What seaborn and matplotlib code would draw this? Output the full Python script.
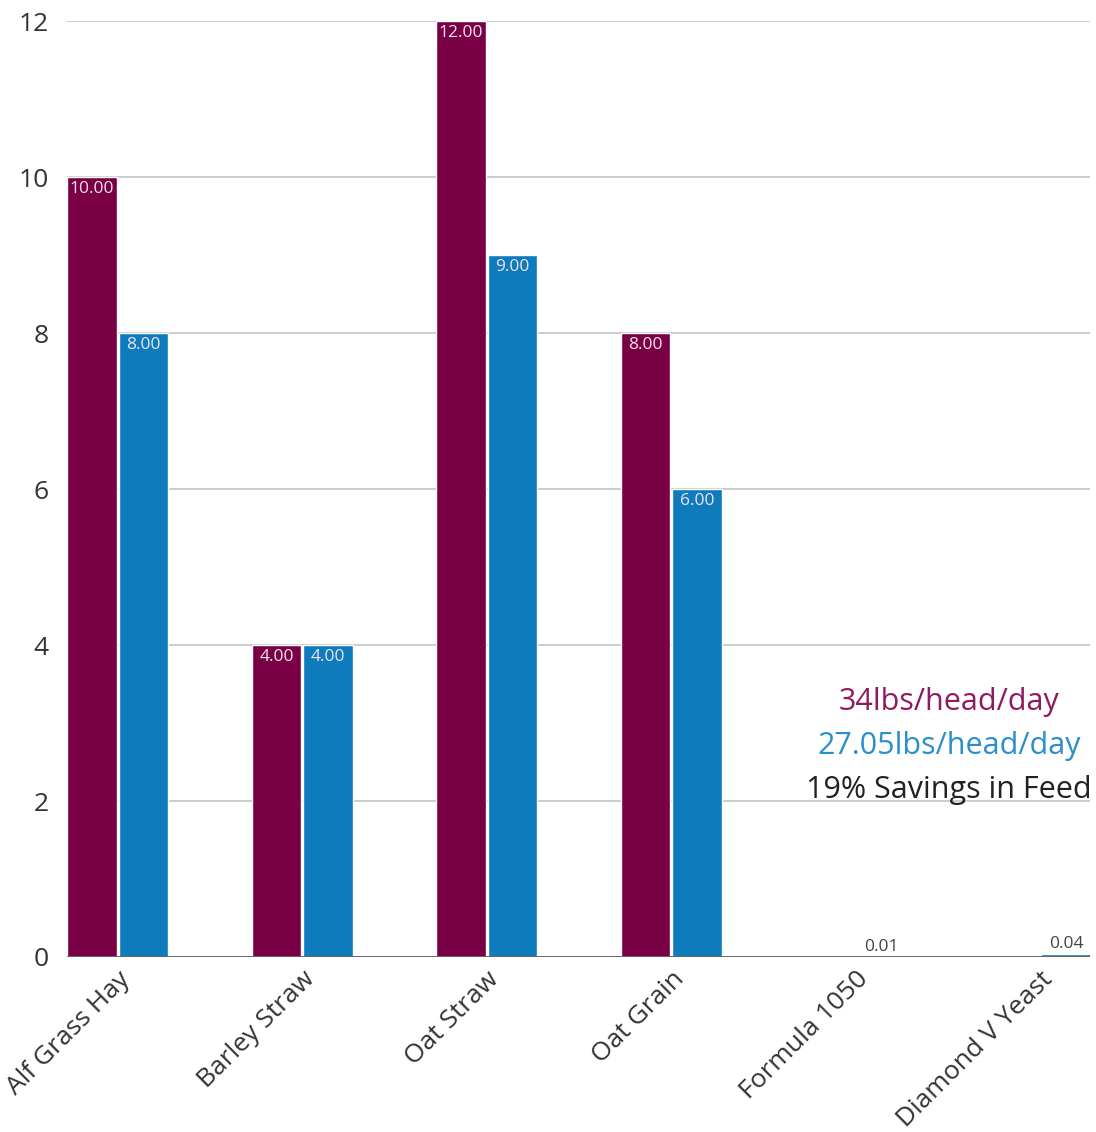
import pandas as pd
import numpy as np
import matplotlib.pyplot as plt
import seaborn as sns

categories = ['Alf Grass Hay', 'Barley Straw', 'Oat Straw', 'Oat Grain',
              'Formula 1050', 'Diamond V Yeast']
standard = [10, 4, 12, 8, 0, 0]
diamond_v = [8, 4, 9, 6, 0.01, 0.04]
series = ['Standard ration', 'Diamond V ration']
colors = ['#7a0046', '#0e7bbd']
notes = ['34lbs/head/day', '27.05lbs/head/day', '19% Savings in Feed']
note_colors = ['#8e1b62', '#2b8fcb', '#222222']

df = pd.DataFrame({
    'feed': categories * 2,
    'lbs': standard + diamond_v,
    'ration': [series[0]] * len(categories) + [series[1]] * len(categories),
})

sns.set_style('white')
plt.rcParams['font.family'] = ['Open Sans', 'DejaVu Sans']

fig = plt.figure(figsize=(10.96, 11.32), dpi=100)
ax = fig.add_axes([0.0611, 0.1546, 0.9334, 0.8268])

sns.barplot(data=df, x='feed', y='lbs', hue='ration', palette=colors,
            width=0.56, gap=0.04, legend=False, ax=ax, saturation=1)

ax.set_xlim(-0.276, 5.27)
ax.set_ylim(0, 12)
ax.set_yticks(range(0, 13, 2))
ax.yaxis.grid(True, color='#cccccc', linewidth=1.4)
ax.set_axisbelow(True)
for s in ax.spines.values():
    s.set_visible(False)
ax.axhline(0, color='#666666', linewidth=1.4, zorder=3)

ax.set_xlabel('')
ax.set_ylabel('')
ax.tick_params(axis='y', labelsize=19, labelcolor='#333333', pad=13, length=0)
ax.tick_params(axis='x', labelsize=19, labelcolor='#333333', pad=7, length=0)
plt.setp(ax.get_xticklabels(), rotation=45, ha='right', rotation_mode='anchor')

for container in ax.containers:
    for bar in container:
        h = bar.get_height()
        if h <= 0:
            continue
        cx = bar.get_x() + bar.get_width() / 2
        if h >= 1:
            ax.annotate(f'{h:.2f}', (cx, h), xytext=(0, -3), textcoords='offset points',
                        ha='center', va='top', fontsize=12.5, color='#f0e2ec', zorder=5)
        else:
            ax.annotate(f'{h:.2f}', (cx, h), xytext=(0, 1), textcoords='offset points',
                        ha='center', va='bottom', fontsize=12.5, color='#444444', zorder=5)

for i, (txt, c) in enumerate(zip(notes, note_colors)):
    ax.text(0.862, 0.272 - i * 0.047, txt, transform=ax.transAxes, ha='center',
            va='center', fontsize=22, color=c, zorder=6)

fig.savefig('out.png', dpi=100)
